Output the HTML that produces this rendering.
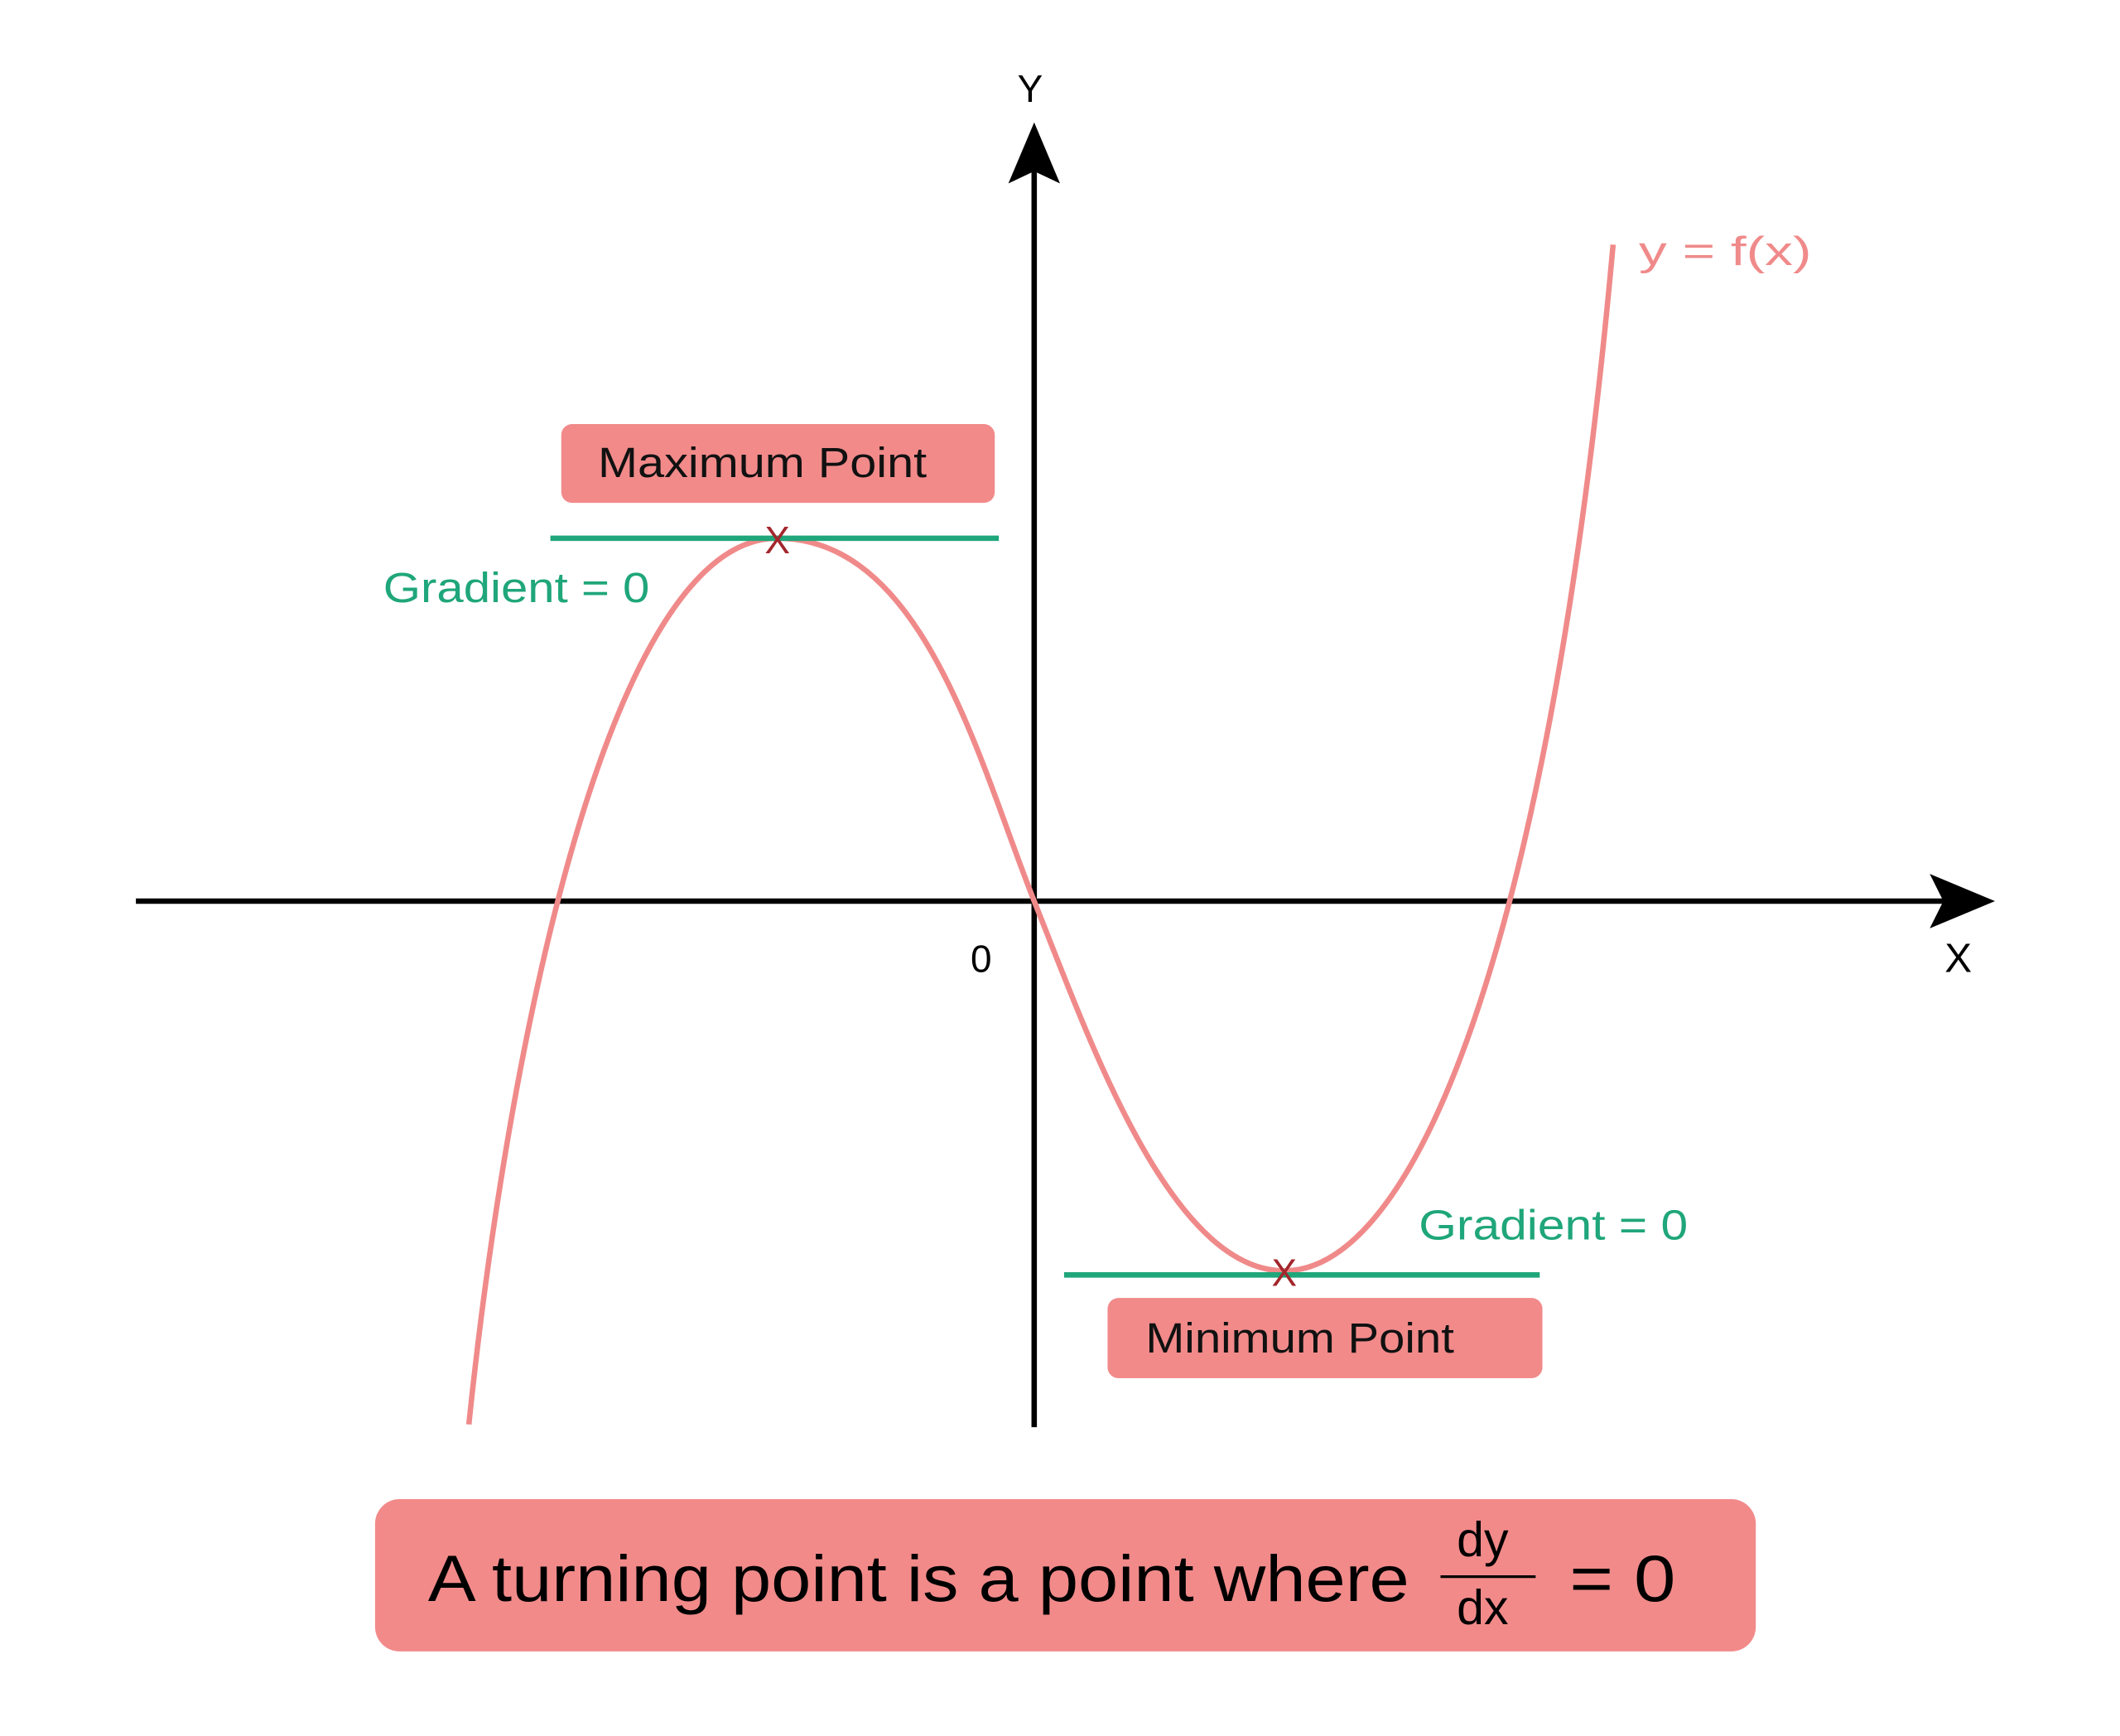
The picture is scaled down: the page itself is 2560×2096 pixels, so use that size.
<!DOCTYPE html>
<html><head><meta charset="utf-8"><style>
html,body{margin:0;padding:0;background:#fff;}
svg{display:block;}
text{font-family:"Liberation Sans","DejaVu Sans",sans-serif;}
</style></head><body>
<svg width="2560" height="2096" viewBox="0 0 1560 1277.25" xmlns="http://www.w3.org/2000/svg">
<rect width="1560" height="1278" fill="#fff"/>
<line x1="761" y1="125" x2="761" y2="1050" stroke="#000" stroke-width="4"/>
<polygon points="761,90 742,135 761,126 780,135" fill="#000"/>
<line x1="100" y1="663" x2="1435" y2="663" stroke="#000" stroke-width="4"/>
<polygon points="1468,663 1420,643 1430,663 1420,683" fill="#000"/>
<text x="758" y="75" font-size="28" text-anchor="middle">Y</text>
<text x="1441" y="715" font-size="30" text-anchor="middle">X</text>
<text x="722" y="715" font-size="28" text-anchor="middle">0</text>
<path d="M345,1048 C375,760 450,396 572,396 C680,396 720,560 761,663 C800,760 860,935 945,935 C1040,935 1140,700 1187,180" fill="none" stroke="#f08a8a" stroke-width="4"/>
<text x="1206" y="195" font-size="30" fill="#f08a8a" textLength="127" lengthAdjust="spacingAndGlyphs">y = f(x)</text>
<rect x="413" y="312" width="319" height="58" rx="8" fill="#f28a8a"/>
<text x="440" y="351" font-size="31" fill="#111" textLength="242" lengthAdjust="spacingAndGlyphs">Maximum Point</text>
<line x1="405" y1="396" x2="735" y2="396" stroke="#1fa67a" stroke-width="4"/>
<text x="572" y="407" font-size="28" fill="#a3262c" text-anchor="middle">X</text>
<text x="282" y="443" font-size="31" fill="#1fa67a" textLength="196" lengthAdjust="spacingAndGlyphs">Gradient = 0</text>
<line x1="783" y1="938" x2="1133" y2="938" stroke="#1fa67a" stroke-width="4"/>
<text x="945" y="946" font-size="28" fill="#a3262c" text-anchor="middle">X</text>
<rect x="815" y="955" width="320" height="59" rx="8" fill="#f28a8a"/>
<text x="843" y="995" font-size="31" fill="#111" textLength="227" lengthAdjust="spacingAndGlyphs">Minimum Point</text>
<text x="1044" y="912" font-size="31" fill="#1fa67a" textLength="198" lengthAdjust="spacingAndGlyphs">Gradient = 0</text>
<rect x="276" y="1103" width="1016" height="112" rx="18" fill="#f28a8a"/>
<text x="315" y="1178" font-size="48" fill="#000" textLength="722" lengthAdjust="spacingAndGlyphs">A turning point is a point where</text>
<text x="1091" y="1145" font-size="36" fill="#000" text-anchor="middle">dy</text>
<line x1="1060" y1="1160" x2="1130" y2="1160" stroke="#000" stroke-width="2"/>
<text x="1091" y="1195" font-size="36" fill="#000" text-anchor="middle">dx</text>
<text x="1155" y="1178" font-size="48" fill="#000" textLength="78" lengthAdjust="spacingAndGlyphs">= 0</text>
</svg>
</body></html>
